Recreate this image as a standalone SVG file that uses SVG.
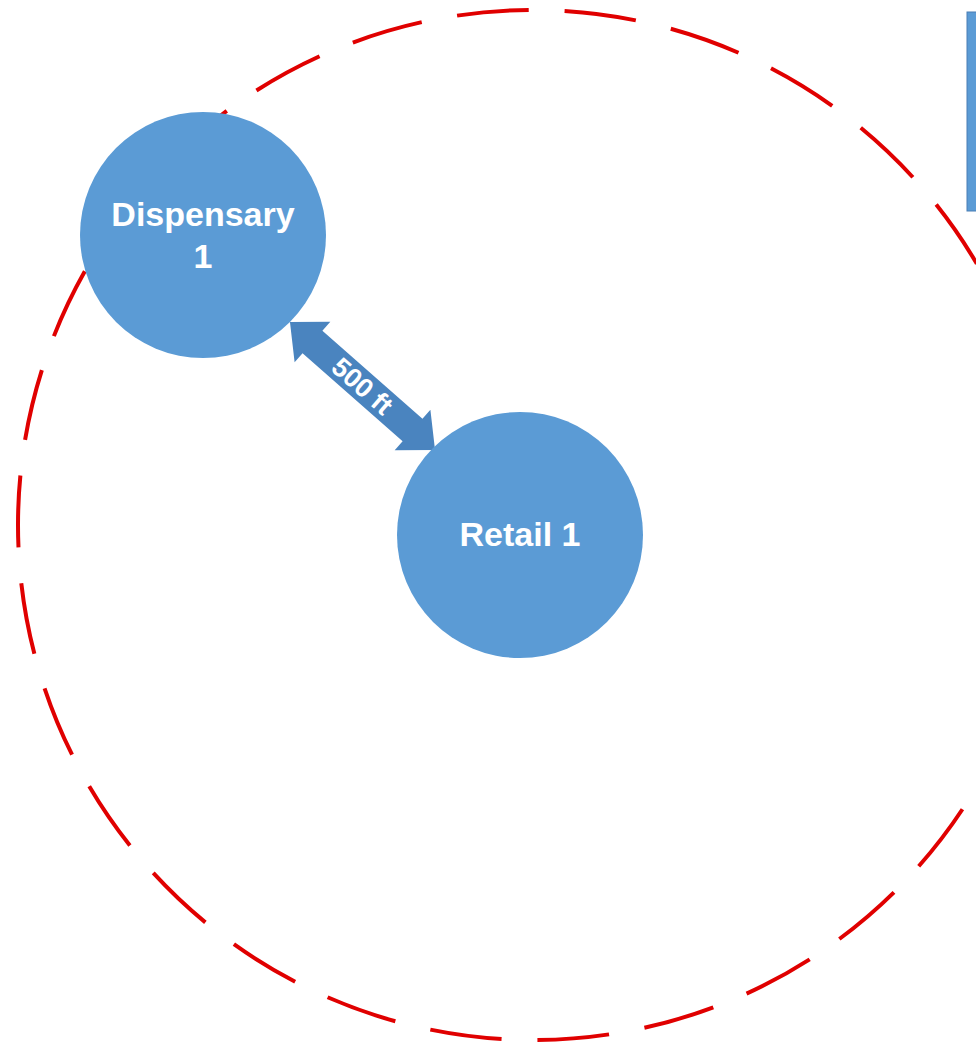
<svg xmlns="http://www.w3.org/2000/svg" width="976" height="1046" viewBox="0 0 976 1046">
<style>
.node{fill:#5b9bd5;}
.lbl{fill:#ffffff;font-family:"Liberation Sans",Arial,sans-serif;font-weight:bold;font-size:34px;text-anchor:middle;}
.ring{fill:none;stroke:#e00000;stroke-width:4;stroke-dasharray:71.9 35.96;stroke-dashoffset:22.5;}
</style>
<rect width="976" height="1046" fill="#ffffff"/>
<circle class="ring" cx="533" cy="525" r="515"/>
<g id="box">
<rect x="967" y="12" width="20" height="199" fill="#5b9bd5" stroke="#4a7fb5" stroke-width="1"/>
</g>
<g id="connectors">
<g transform="translate(362.5 386) rotate(41.4)">
<polygon points="-96.7,0 -66.7,-27 -66.7,-15 66.7,-15 66.7,-27 96.7,0 66.7,27 66.7,15 -66.7,15 -66.7,27" fill="#4a84bf"/>
<text x="0" y="9.5" fill="#ffffff" font-family="Liberation Sans, Arial, sans-serif" font-weight="bold" font-size="27" text-anchor="middle">500 ft</text>
</g>
</g>
<g id="dispensary">
<circle class="node" cx="203" cy="235" r="123"/>
<text class="lbl" x="203" y="226">Dispensary</text>
<text class="lbl" x="203" y="268">1</text>
</g>
<g id="retail">
<circle class="node" cx="520" cy="535" r="123"/>
<text class="lbl" x="520" y="546">Retail 1</text>
</g>
</svg>
